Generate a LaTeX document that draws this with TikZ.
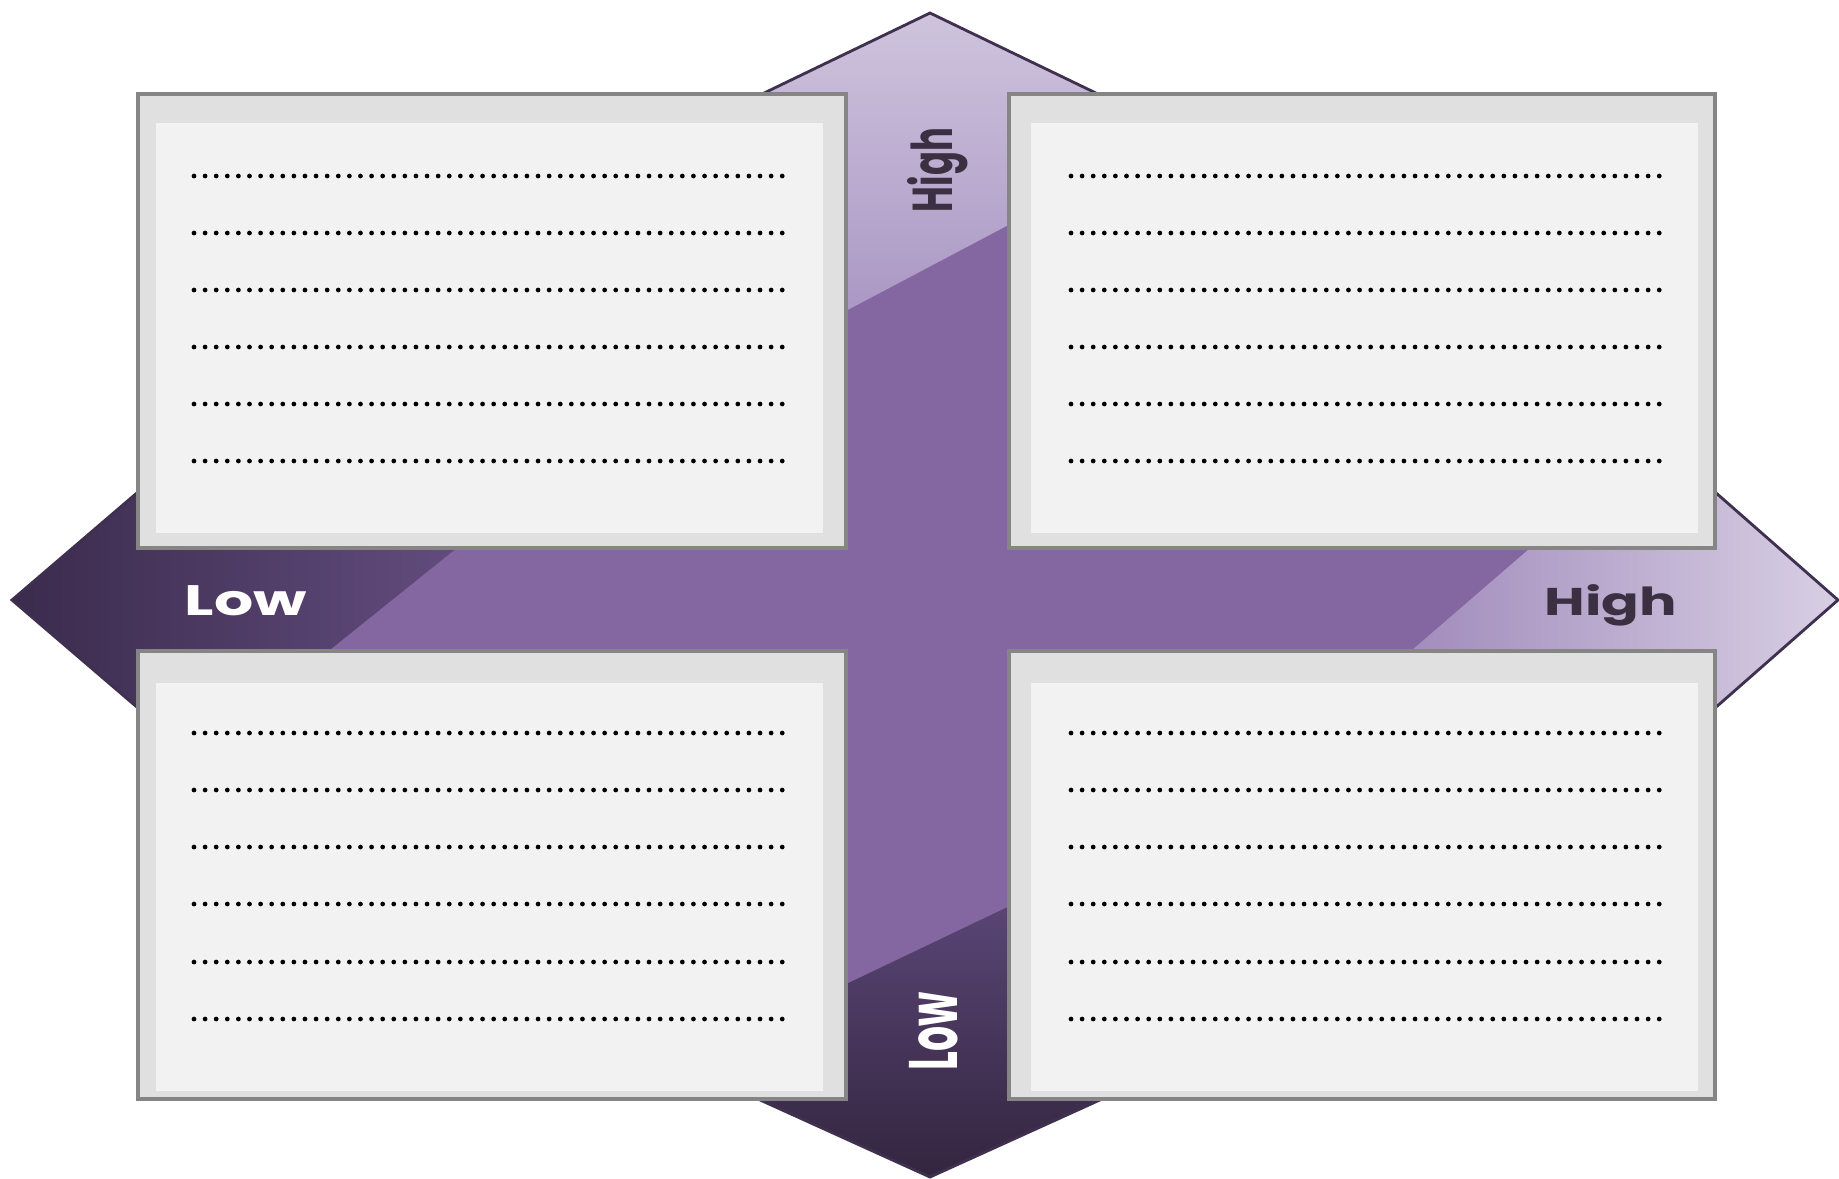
\documentclass[tikz,border=0pt]{standalone}
\usepackage{fontspec}
\usepackage{graphicx}
\newfontfamily\labfont{Poppins}
\definecolor{purpmid}{HTML}{8467A0}
\definecolor{purpline}{HTML}{3F3050}
\definecolor{labdark}{HTML}{3A3042}
\definecolor{frameg}{HTML}{E0E0E0}
\definecolor{panelg}{HTML}{F2F2F2}
\definecolor{edgeg}{HTML}{858585}
\definecolor{vttop}{HTML}{D0C6DE}
\definecolor{vtbot}{HTML}{AA97C4}
\definecolor{vbtop}{HTML}{5A4575}
\definecolor{vbbot}{HTML}{33253F}
\definecolor{hlleft}{HTML}{3A2A4B}
\definecolor{hlright}{HTML}{624C7E}
\definecolor{hrleft}{HTML}{A18BBB}
\definecolor{hrright}{HTML}{D8CFE4}
\tikzset{
  frame/.style={fill=frameg, draw=edgeg, line width=1pt},
  panel/.style={fill=panelg},
  dotrow/.style={line width=1.35pt, line cap=round, dash pattern=on 0pt off 3.156pt, black},
  lab/.style={inner sep=0pt, anchor=base, font=\labfont\bfseries}
}
\begin{document}
\begin{tikzpicture}[x=0.01cm,y=-0.01cm]
\useasboundingbox (0,0) rectangle (1839,1178);
\fill[white] (0,0) rectangle (1839,1178);
% cross arrows
\fill[purpmid] (930,13) -- (1100,95) -- (1009,95) -- (1009,548) -- (1715,548) -- (1715,492) -- (1838,600) -- (1715,708) -- (1715,651) -- (1009,651) -- (1009,1099) -- (1102,1099) -- (930,1177) -- (758,1099) -- (846,1099) -- (846,651) -- (138,651) -- (138,708) -- (12,600) -- (138,492) -- (138,548) -- (846,548) -- (846,95) -- (760,95) -- cycle;
\begin{scope}
\clip (930,13) -- (1100,95) -- (1009,95) -- (1009,548) -- (1715,548) -- (1715,492) -- (1838,600) -- (1715,708) -- (1715,651) -- (1009,651) -- (1009,1099) -- (1102,1099) -- (930,1177) -- (758,1099) -- (846,1099) -- (846,651) -- (138,651) -- (138,708) -- (12,600) -- (138,492) -- (138,548) -- (846,548) -- (846,95) -- (760,95) -- cycle;
\shade[top color=vttop, bottom color=vtbot] (740,314) -- (840,314) -- (1016,221) -- (1120,221) -- (1120,0) -- (740,0) -- cycle;
\shade[top color=vbtop, bottom color=vbbot] (740,987) -- (840,987) -- (1016,903) -- (1120,903) -- (1120,1178) -- (740,1178) -- cycle;
\shade[left color=hlleft, right color=hlright] (0,480) -- (463,480) -- (463,543) -- (321,657) -- (321,720) -- (0,720) -- cycle;
\shade[left color=hrleft, right color=hrright] (1839,480) -- (1536,480) -- (1536,543) -- (1404,657) -- (1404,720) -- (1839,720) -- cycle;
\end{scope}
\draw[purpline, line width=0.8pt, line join=miter] (930,13) -- (1100,95) -- (1009,95) -- (1009,548) -- (1715,548) -- (1715,492) -- (1838,600) -- (1715,708) -- (1715,651) -- (1009,651) -- (1009,1099) -- (1102,1099) -- (930,1177) -- (758,1099) -- (846,1099) -- (846,651) -- (138,651) -- (138,708) -- (12,600) -- (138,492) -- (138,548) -- (846,548) -- (846,95) -- (760,95) -- cycle;
% boxes
\draw[frame] (138,94) rectangle (846,548);
\fill[panel] (156,123) rectangle (823,533);
\draw[frame] (1009,94) rectangle (1715,548);
\fill[panel] (1031,123) rectangle (1698,533);
\draw[frame] (138,651) rectangle (846,1099);
\fill[panel] (156,683) rectangle (823,1091);
\draw[frame] (1009,651) rectangle (1715,1099);
\fill[panel] (1031,683) rectangle (1698,1091);
% dotted rows
\foreach \y in {176,233,290,347,404,461,733,790,847,904,962,1019}{
  \draw[dotrow] (194,\y) -- (786,\y);
  \draw[dotrow] (1071,\y) -- (1663,\y);
}
% labels
\node[lab, text=white] (lowh) at (246,615) {\resizebox{34.7pt}{8.5pt}{Low}};
\node[lab, text=labdark] (highh) at (1611,615) {\resizebox{37.6pt}{8.8pt}{High}};
\node[lab, text=labdark, rotate=90] (highv) at (952,170) {\resizebox{23.9pt}{12.8pt}{High}};
\node[lab, text=white, rotate=90] (lowv) at (957,1031) {\resizebox{22.2pt}{13.7pt}{Low}};
\end{tikzpicture}
\end{document}
